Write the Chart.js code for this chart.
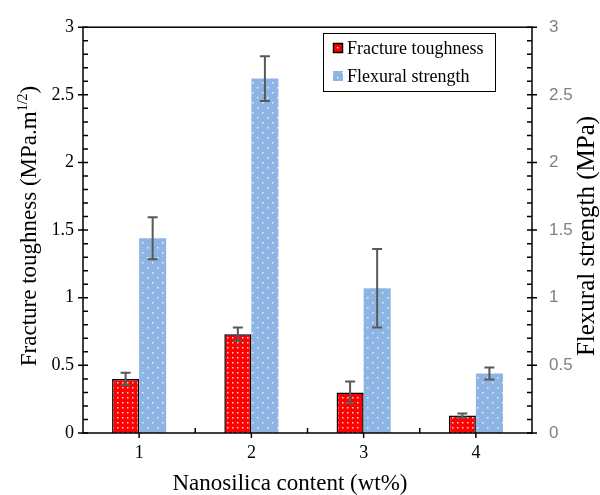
<!DOCTYPE html>
<html>
<head>
<meta charset="utf-8">
<script src="https://cdn.jsdelivr.net/npm/chart.js@4.4.0/dist/chart.umd.min.js"></script>
<style>
  html, body { margin: 0; padding: 0; background: #fff; }
</style>
</head>
<body>
<canvas id="chart" width="600" height="495"></canvas>
<script>
const contents = ["1", "2", "3", "4"];
const toughness = [0.40, 0.73, 0.30, 0.13];
const toughnessErr = [0.045, 0.05, 0.08, 0.015];
const strength = [1.44, 2.62, 1.07, 0.44];
const strengthErr = [0.155, 0.165, 0.29, 0.045];
const yTicks = [0, 0.5, 1, 1.5, 2, 2.5, 3];

const serif = '"Liberation Serif", "Times New Roman", serif';
const sans = '"Liberation Sans", Arial, sans-serif';

const ctx = document.getElementById("chart").getContext("2d");

// small dotted fills like the excel pattern fills
function dotted(bg, dot, w, h, spots) {
  const c = document.createElement("canvas");
  c.width = w;
  c.height = h;
  const g = c.getContext("2d");
  g.fillStyle = bg;
  g.fillRect(0, 0, w, h);
  g.fillStyle = dot;
  for (const [x, y] of spots) g.fillRect(x, y, 1.5, 1.5);
  return ctx.createPattern(c, "repeat");
}
const redFill = dotted("#ff0000", "#ffd6d6", 5, 5, [[2, 2]]);
const blueFill = dotted("#8db4e2", "#e8f0fa", 10, 10, [[2, 2], [7, 7]]);

const decor = {
  id: "decor",
  afterDatasetsDraw(chart) {
    const { ctx, chartArea: a, scales } = chart;
    const x = scales.x;
    const y = scales.y;
    ctx.save();

    // error bars
    chart.data.datasets.forEach((ds, i) => {
      const ys = scales[ds.yAxisID];
      chart.getDatasetMeta(i).data.forEach((bar, j) => {
        const top = ys.getPixelForValue(ds.data[j] + ds.errors[j]);
        const bot = ys.getPixelForValue(ds.data[j] - ds.errors[j]);
        ctx.strokeStyle = "#595959";
        ctx.lineWidth = 2;
        ctx.beginPath();
        ctx.moveTo(bar.x, top);
        ctx.lineTo(bar.x, bot);
        ctx.moveTo(bar.x - 5, top);
        ctx.lineTo(bar.x + 5, top);
        ctx.moveTo(bar.x - 5, bot);
        ctx.lineTo(bar.x + 5, bot);
        ctx.stroke();
      });
    });

    // frame + tick marks
    ctx.strokeStyle = "#000";
    ctx.lineWidth = 1.5;
    ctx.strokeRect(a.left, a.top, a.right - a.left, a.bottom - a.top);
    ctx.beginPath();
    for (let k = 0; k <= 30; k++) {
      const py = y.getPixelForValue(k / 10);
      const major = k % 5 === 0;
      ctx.moveTo(a.left - (major ? 5 : 0), py);
      ctx.lineTo(a.left + 5, py);
      ctx.moveTo(a.right - 5, py);
      ctx.lineTo(a.right + (major ? 5 : 0), py);
    }
    contents.forEach((c, i) => {
      const px = x.getPixelForValue(i);
      ctx.moveTo(px, a.bottom);
      ctx.lineTo(px, a.bottom + 5);
      if (i < contents.length - 1) {
        const bx = x.getPixelForValue(i + 0.5);
        ctx.moveTo(bx, a.bottom - 5);
        ctx.lineTo(bx, a.bottom);
      }
    });
    ctx.stroke();

    // axis titles
    ctx.fillStyle = "#000";
    ctx.textBaseline = "middle";
    ctx.font = "23px " + serif;
    ctx.textAlign = "center";
    ctx.fillText("Nanosilica content (wt%)", 290, 484);

    ctx.save();
    ctx.translate(30, 226);
    ctx.rotate(-Math.PI / 2);
    const main = "Fracture toughness (MPa.m";
    ctx.font = "23px " + serif;
    const w1 = ctx.measureText(main).width;
    const w3 = ctx.measureText(")").width;
    ctx.font = "14px " + serif;
    const w2 = ctx.measureText("1/2").width;
    let sx = -(w1 + w2 + w3) / 2;
    ctx.textAlign = "left";
    ctx.font = "23px " + serif;
    ctx.fillText(main, sx, 0);
    ctx.font = "14px " + serif;
    ctx.fillText("1/2", sx + w1, -7);
    ctx.font = "23px " + serif;
    ctx.fillText(")", sx + w1 + w2, 0);
    ctx.restore();

    ctx.save();
    ctx.translate(587, 236);
    ctx.rotate(-Math.PI / 2);
    ctx.textAlign = "center";
    ctx.font = "25px " + serif;
    ctx.fillText("Flexural strength (MPa)", 0, 0);
    ctx.restore();

    // legend
    ctx.lineWidth = 1;
    ctx.strokeStyle = "#000";
    ctx.fillStyle = "#fff";
    ctx.fillRect(323.5, 33.5, 172, 58);
    ctx.strokeRect(323.5, 33.5, 172, 58);
    ctx.textAlign = "left";
    ctx.font = "18px " + serif;
    chart.data.datasets.forEach((ds, i) => {
      const cy = 48 + i * 28;
      ctx.fillStyle = ds.backgroundColor;
      ctx.fillRect(333, cy - 5, 10, 10);
      if (ds.borderWidth) {
        ctx.lineWidth = 1.5;
        ctx.strokeRect(333.5, cy - 4.5, 9, 9);
      }
      ctx.fillStyle = "#000";
      ctx.fillText(ds.label, 347, cy + 1);
    });
    ctx.restore();
  },
};

const tickText = (v) => String(v);

new Chart(ctx, {
  type: "bar",
  data: {
    labels: contents,
    datasets: [
      {
        label: "Fracture toughness",
        data: toughness,
        errors: toughnessErr,
        backgroundColor: redFill,
        borderColor: "#000",
        borderWidth: 1.5,
        borderSkipped: "bottom",
        yAxisID: "y",
      },
      {
        label: "Flexural strength",
        data: strength,
        errors: strengthErr,
        backgroundColor: blueFill,
        borderWidth: 0,
        yAxisID: "y2",
      },
    ],
  },
  options: {
    responsive: false,
    animation: false,
    layout: { padding: { top: 23 } },
    datasets: { bar: { barPercentage: 1, categoryPercentage: 0.482 } },
    plugins: { legend: { display: false }, tooltip: { enabled: false } },
    scales: {
      x: {
        grid: { display: false, drawTicks: false },
        border: { display: false },
        ticks: { color: "#000", font: { family: serif, size: 18 }, padding: 9 },
        afterFit: (s) => { s.height = 62; },
      },
      y: {
        position: "left",
        min: 0,
        max: 3,
        afterBuildTicks: (s) => { s.ticks = yTicks.map((v) => ({ value: v })); },
        grid: { display: false, drawTicks: false },
        border: { display: false },
        ticks: { color: "#000", font: { family: serif, size: 18 }, padding: 9, callback: tickText },
        afterFit: (s) => { s.width = 83; },
      },
      y2: {
        position: "right",
        min: 0,
        max: 3,
        afterBuildTicks: (s) => { s.ticks = yTicks.map((v) => ({ value: v })); },
        grid: { display: false, drawTicks: false },
        border: { display: false },
        ticks: { color: "#808080", font: { family: sans, size: 17 }, padding: 17, callback: tickText },
        afterFit: (s) => { s.width = 68; },
      },
    },
  },
  plugins: [decor],
});
</script>
</body>
</html>
